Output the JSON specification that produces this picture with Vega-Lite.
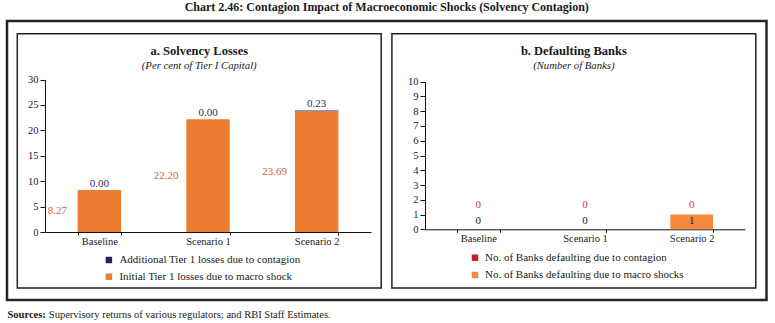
{
  "$schema": "https://vega.github.io/schema/vega-lite/v6.json",
  "width": 759.5,
  "height": 279,
  "autosize": {"type": "none"},
  "padding": {"left": 7, "top": 21, "right": 8.5, "bottom": 23},
  "title": {
    "text": "Chart 2.46: Contagion Impact of Macroeconomic Shocks (Solvency Contagion)",
    "anchor": "middle",
    "frame": "group",
    "offset": 7,
    "fontSize": 12,
    "fontWeight": "bold",
    "color": "#1a1a1a"
  },
  "datasets": {
    "frames": [
      {"panel": "a. Solvency Losses", "unit": "(Per cent of Tier I Capital)"},
      {"panel": "b. Defaulting Banks", "unit": "(Number of Banks)"}
    ],
    "solvency": [
      {"scenario": "Baseline", "series": "Additional Tier 1 losses due to contagion", "value": 0.00},
      {"scenario": "Baseline", "series": "Initial Tier 1 losses due to macro shock", "value": 8.27},
      {"scenario": "Scenario 1", "series": "Additional Tier 1 losses due to contagion", "value": 0.00},
      {"scenario": "Scenario 1", "series": "Initial Tier 1 losses due to macro shock", "value": 22.20},
      {"scenario": "Scenario 2", "series": "Additional Tier 1 losses due to contagion", "value": 0.23},
      {"scenario": "Scenario 2", "series": "Initial Tier 1 losses due to macro shock", "value": 23.69}
    ],
    "banks": [
      {"scenario": "Baseline", "series": "No. of Banks defaulting due to contagion", "value": 0},
      {"scenario": "Baseline", "series": "No. of Banks defaulting due to macro shocks", "value": 0},
      {"scenario": "Scenario 1", "series": "No. of Banks defaulting due to contagion", "value": 0},
      {"scenario": "Scenario 1", "series": "No. of Banks defaulting due to macro shocks", "value": 0},
      {"scenario": "Scenario 2", "series": "No. of Banks defaulting due to contagion", "value": 0},
      {"scenario": "Scenario 2", "series": "No. of Banks defaulting due to macro shocks", "value": 1}
    ]
  },
  "layer": [
    {
      "data": {"name": "frames"},
      "encoding": {
        "x": {
          "field": "panel",
          "type": "nominal",
          "sort": null,
          "scale": {"range": [10.3, 748.8], "paddingInner": 0.0286, "paddingOuter": 0},
          "axis": {
            "orient": "bottom",
            "domain": false,
            "ticks": false,
            "labels": false,
            "title": "Sources:",
            "titleX": 0,
            "titleY": 14,
            "titleAlign": "left",
            "titleAnchor": "start",
            "titleBaseline": "middle",
            "titleFontSize": 10.5,
            "titleFontWeight": "bold",
            "titleColor": "#1a1a1a"
          }
        },
        "y": {
          "datum": 0,
          "type": "quantitative",
          "scale": {"domain": [0, 1], "range": [266.9, 12.8], "nice": false, "zero": false},
          "axis": null
        }
      },
      "layer": [
        {
          "mark": {"type": "rect", "filled": false, "stroke": "#222222", "strokeWidth": 1.5},
          "encoding": {"y2": {"datum": 1}}
        },
        {
          "mark": {"type": "text", "fontSize": 12.5, "fontWeight": "bold", "baseline": "middle", "dy": 17, "color": "#1a1a1a"},
          "encoding": {"y": {"datum": 1, "type": "quantitative", "axis": null}, "text": {"field": "panel"}}
        },
        {
          "mark": {"type": "text", "fontSize": 10.7, "fontStyle": "italic", "baseline": "middle", "dy": 32, "color": "#1a1a1a"},
          "encoding": {"y": {"datum": 1, "type": "quantitative", "axis": null}, "text": {"field": "unit"}}
        }
      ]
    },
    {
      "data": {"name": "solvency"},
      "encoding": {
        "x": {
          "field": "scenario",
          "type": "nominal",
          "sort": null,
          "scale": {"range": [38, 364], "paddingInner": 0.6, "paddingOuter": 0.3},
          "axis": {
            "orient": "bottom",
            "offset": -68,
            "title": null,
            "labelAngle": 0,
            "tickBand": "extent",
            "tickSize": 3,
            "labelPadding": 1
          }
        }
      },
      "layer": [
        {
          "mark": {"type": "bar"},
          "encoding": {
            "y": {
              "field": "value",
              "type": "quantitative",
              "stack": "zero",
              "scale": {"domain": [0, 30], "range": [211, 58.5], "nice": false},
              "axis": {"orient": "left", "offset": -38, "values": [0, 5, 10, 15, 20, 25, 30], "title": null, "tickSize": 5, "labelPadding": 2, "labelOverlap": false}
            },
            "color": {
              "field": "series",
              "type": "nominal",
              "scale": {
                "domain": ["Additional Tier 1 losses due to contagion", "Initial Tier 1 losses due to macro shock"],
                "range": ["#1f2a5c", "#ed7d31"]
              },
              "legend": {
                "orient": "none",
                "legendX": 96.4,
                "legendY": 233.5,
                "direction": "vertical",
                "title": null,
                "symbolType": "square",
                "symbolSize": 42,
                "symbolStrokeWidth": 0,
                "labelFontSize": 11,
                "labelColor": "#1a1a1a",
                "labelLimit": 0,
                "labelOffset": 5,
                "rowPadding": 4.7,
                "padding": 0
              }
            },
            "order": {"field": "series", "sort": "descending"}
          }
        },
        {
          "transform": [
            {"stack": "value", "groupby": ["scenario"], "sort": [{"field": "series", "order": "descending"}], "as": ["v0", "v1"]},
            {"filter": "datum.series === 'Additional Tier 1 losses due to contagion'"}
          ],
          "mark": {"type": "text", "baseline": "alphabetic", "dy": -3, "fontSize": 11, "color": "#2b2f4a"},
          "encoding": {
            "y": {
              "field": "v1",
              "type": "quantitative",
              "axis": {"orient": "left", "offset": -38, "values": [0, 5, 10, 15, 20, 25, 30], "title": null, "tickSize": 5, "labelPadding": 2, "labelOverlap": false}
            },
            "text": {"field": "value", "type": "quantitative", "format": ".2f"}
          }
        }
      ]
    },
    {
      "data": {"name": "solvency"},
      "transform": [{"filter": "datum.series === 'Initial Tier 1 losses due to macro shock'"}],
      "mark": {"type": "text", "baseline": "middle", "dx": -42, "fontSize": 11, "color": "#d2603a"},
      "encoding": {
        "x": {
          "field": "scenario",
          "type": "nominal",
          "sort": null,
          "scale": {"range": [38, 364], "paddingInner": 0.6, "paddingOuter": 0.3},
          "axis": {
            "orient": "bottom",
            "domain": false,
            "ticks": false,
            "labels": false,
            "title": "Supervisory returns of various regulators; and RBI Staff Estimates.",
            "titleX": 41.3,
            "titleY": 14,
            "titleAlign": "left",
            "titleAnchor": "start",
            "titleBaseline": "middle",
            "titleFontSize": 10.5,
            "titleFontWeight": "normal",
            "titleColor": "#1a1a1a"
          }
        },
        "y": {
          "field": "value",
          "type": "quantitative",
          "scale": {"domain": [0, 60], "range": [211, 58.5], "nice": false},
          "axis": null
        },
        "text": {"field": "value", "type": "quantitative", "format": ".2f"}
      }
    },
    {
      "data": {"name": "banks"},
      "encoding": {
        "x": {
          "field": "scenario",
          "type": "nominal",
          "sort": null,
          "scale": {"range": [418, 738], "paddingInner": 0.6, "paddingOuter": 0.3},
          "axis": {
            "orient": "bottom",
            "offset": -70.7,
            "title": null,
            "labelAngle": 0,
            "tickBand": "extent",
            "tickSize": 3,
            "labelPadding": 1
          }
        }
      },
      "layer": [
        {
          "mark": {"type": "bar"},
          "encoding": {
            "y": {
              "field": "value",
              "type": "quantitative",
              "stack": "zero",
              "scale": {"domain": [0, 10], "range": [208.3, 60.7], "nice": false},
              "axis": {"orient": "left", "offset": -418, "values": [0, 1, 2, 3, 4, 5, 6, 7, 8, 9, 10], "title": null, "tickSize": 5, "labelPadding": 2, "labelOverlap": false}
            },
            "color": {
              "field": "series",
              "type": "nominal",
              "scale": {
                "domain": ["No. of Banks defaulting due to contagion", "No. of Banks defaulting due to macro shocks"],
                "range": ["#c0202e", "#f4883c"]
              },
              "legend": {
                "orient": "none",
                "legendX": 462.5,
                "legendY": 231.2,
                "direction": "vertical",
                "title": null,
                "symbolType": "square",
                "symbolSize": 42,
                "symbolStrokeWidth": 0,
                "labelFontSize": 11,
                "labelColor": "#1a1a1a",
                "labelLimit": 0,
                "labelOffset": 4.5,
                "rowPadding": 5.3,
                "padding": 0
              }
            },
            "order": {"field": "series", "sort": "descending"}
          }
        },
        {
          "transform": [{"filter": "datum.series === 'No. of Banks defaulting due to contagion'"}],
          "mark": {"type": "text", "baseline": "middle", "fontSize": 11, "color": "#cc3a52"},
          "encoding": {
            "y": {
              "datum": 1.62,
              "type": "quantitative",
              "axis": {"orient": "left", "offset": -418, "values": [0, 1, 2, 3, 4, 5, 6, 7, 8, 9, 10], "title": null, "tickSize": 5, "labelPadding": 2, "labelOverlap": false}
            },
            "text": {"field": "value", "type": "quantitative", "format": "d"}
          }
        },
        {
          "transform": [{"filter": "datum.series === 'No. of Banks defaulting due to macro shocks'"}],
          "mark": {"type": "text", "baseline": "middle", "fontSize": 11, "color": "#222222"},
          "encoding": {
            "y": {
              "datum": 0.55,
              "type": "quantitative",
              "axis": {"orient": "left", "offset": -418, "values": [0, 1, 2, 3, 4, 5, 6, 7, 8, 9, 10], "title": null, "tickSize": 5, "labelPadding": 2, "labelOverlap": false}
            },
            "text": {"field": "value", "type": "quantitative", "format": "d"}
          }
        }
      ]
    }
  ],
  "resolve": {
    "scale": {"x": "independent", "y": "independent", "color": "independent"}
  },
  "config": {
    "font": "Liberation Serif",
    "view": {"stroke": "#262626", "strokeWidth": 2.5},
    "axis": {
      "labelFont": "Liberation Serif",
      "labelFontSize": 10.5,
      "labelColor": "#1a1a1a",
      "titleFont": "Liberation Serif",
      "domainColor": "#111111",
      "tickColor": "#111111",
      "domainWidth": 1,
      "tickWidth": 1,
      "grid": false
    },
    "legend": {"labelFont": "Liberation Serif"},
    "text": {"font": "Liberation Serif"}
  }
}
